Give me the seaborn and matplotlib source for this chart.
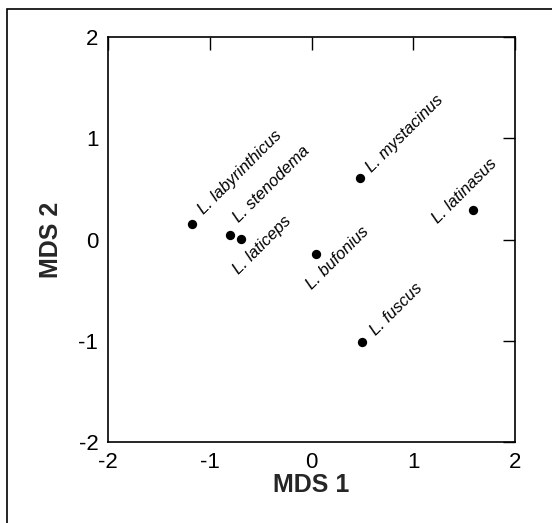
import pandas as pd
import numpy as np
import matplotlib
matplotlib.use("Agg")
import matplotlib.pyplot as plt
import seaborn as sns
from matplotlib.patches import Rectangle

# data
species = ["L. labyrinthicus", "L. stenodema", "L. laticeps", "L. bufonius",
           "L. mystacinus", "L. latinasus", "L. fuscus"]
mds1 = [-1.17, -0.80, -0.69, 0.04, 0.48, 1.59, 0.50]
mds2 = [0.15, 0.04, 0.01, -0.14, 0.61, 0.29, -1.01]

# label offsets in pixels (dx, dy) relative to each point
label_dx = [11, 9, -2, -4, 12, -35, 14]
label_dy = [9, 12, -36, -36, 5, -14, 6]

df = pd.DataFrame({"species": species, "MDS 1": mds1, "MDS 2": mds2})

sns.set_style("white")
plt.rcParams['font.family'] = ['Liberation Sans', 'DejaVu Sans']
plt.rcParams['axes.unicode_minus'] = False

fig = plt.figure(figsize=(5.52, 5.23), dpi=100)
ax = fig.add_axes([0.1957, 0.155, 0.7373, 0.774])

sns.scatterplot(data=df, x="MDS 1", y="MDS 2", color="black", s=45,
                edgecolor="black", linewidth=0, ax=ax, zorder=3)

for name, x, y, dx, dy in zip(species, mds1, mds2, label_dx, label_dy):
    ax.annotate(name, (x, y), xytext=(dx, dy), textcoords="offset pixels",
                rotation=45, rotation_mode="anchor", ha="left", va="baseline",
                fontsize=12, fontstyle="italic", color="black")

ax.set_xlim(-2, 2)
ax.set_ylim(-2, 2)
ax.set_xticks([-2, -1, 0, 1, 2])
ax.set_yticks([-2, -1, 0, 1, 2])
ax.tick_params(direction="in", length=9, width=1, top=True, right=True,
               labelsize=16, colors="black", pad=7)
for sp in ax.spines.values():
    sp.set_color("black")
    sp.set_linewidth(1.2)
    sp.set_visible(True)

ax.set_xlabel("MDS 1", fontsize=18, fontweight="heavy", labelpad=0)
ax.set_ylabel("MDS 2", fontsize=18, fontweight="heavy", labelpad=11)

# outer frame around the figure
fig.patches.append(Rectangle((7 / 552, -0.05), 1.1, 1 - 9 / 523 + 0.05,
                             transform=fig.transFigure, fill=False,
                             edgecolor="black", linewidth=1.2))

fig.savefig("out.png", dpi=100)
